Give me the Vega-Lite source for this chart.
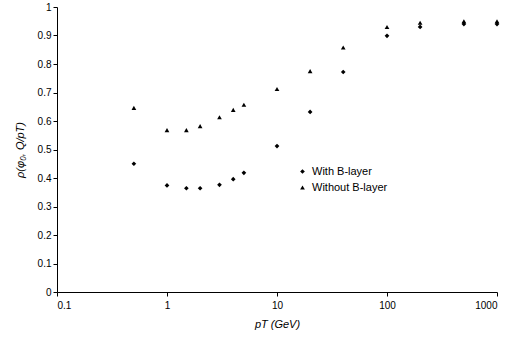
{
  "$schema": "https://vega.github.io/schema/vega-lite/v6.json",
  "autosize": "none",
  "width": 440,
  "height": 285,
  "padding": {"left": 57, "top": 7, "right": 17, "bottom": 55},
  "background": "white",
  "config": {
    "view": {"stroke": null},
    "font": "Liberation Sans",
    "axis": {"grid": false, "domainColor": "black", "tickColor": "black", "labelColor": "black", "titleColor": "black", "labelFont": "Liberation Sans", "titleFont": "Liberation Sans", "labelFontSize": 10, "titleFontSize": 11, "titleFontWeight": "normal", "tickSize": 4}
  },
  "data": {
    "values": [
      {"pt": 0.5, "rho": 0.45, "series": "With B-layer"},
      {"pt": 1, "rho": 0.374, "series": "With B-layer"},
      {"pt": 1.5, "rho": 0.364, "series": "With B-layer"},
      {"pt": 2, "rho": 0.364, "series": "With B-layer"},
      {"pt": 3, "rho": 0.376, "series": "With B-layer"},
      {"pt": 4, "rho": 0.396, "series": "With B-layer"},
      {"pt": 5, "rho": 0.418, "series": "With B-layer"},
      {"pt": 10, "rho": 0.512, "series": "With B-layer"},
      {"pt": 20, "rho": 0.632, "series": "With B-layer"},
      {"pt": 40, "rho": 0.772, "series": "With B-layer"},
      {"pt": 100, "rho": 0.899, "series": "With B-layer"},
      {"pt": 200, "rho": 0.93, "series": "With B-layer"},
      {"pt": 500, "rho": 0.94, "series": "With B-layer"},
      {"pt": 1000, "rho": 0.94, "series": "With B-layer"},
      {"pt": 0.5, "rho": 0.646, "series": "Without B-layer"},
      {"pt": 1, "rho": 0.568, "series": "Without B-layer"},
      {"pt": 1.5, "rho": 0.568, "series": "Without B-layer"},
      {"pt": 2, "rho": 0.582, "series": "Without B-layer"},
      {"pt": 3, "rho": 0.613, "series": "Without B-layer"},
      {"pt": 4, "rho": 0.639, "series": "Without B-layer"},
      {"pt": 5, "rho": 0.657, "series": "Without B-layer"},
      {"pt": 10, "rho": 0.712, "series": "Without B-layer"},
      {"pt": 20, "rho": 0.775, "series": "Without B-layer"},
      {"pt": 40, "rho": 0.858, "series": "Without B-layer"},
      {"pt": 100, "rho": 0.93, "series": "Without B-layer"},
      {"pt": 200, "rho": 0.945, "series": "Without B-layer"},
      {"pt": 500, "rho": 0.95, "series": "Without B-layer"},
      {"pt": 1000, "rho": 0.95, "series": "Without B-layer"}
    ]
  },
  "mark": {"type": "point", "filled": true, "color": "black", "opacity": 1, "size": 22},
  "encoding": {
    "x": {"field": "pt", "type": "quantitative", "scale": {"type": "log", "domain": [0.1, 1000], "nice": false},
      "axis": {"values": [0.1, 1, 10, 100, 1000], "format": "~g", "title": "pT (GeV)", "titleFontStyle": "italic", "labelPadding": 4, "titlePadding": 8}},
    "y": {"field": "rho", "type": "quantitative", "scale": {"domain": [0, 1], "nice": false},
      "axis": {"values": [0, 0.1, 0.2, 0.3, 0.4, 0.5, 0.6, 0.7, 0.8, 0.9, 1], "format": "~g", "title": "ρ(φ₀, Q/pT)", "titleFontStyle": "italic", "titlePadding": 12}},
    "shape": {"field": "series", "type": "nominal", "scale": {"domain": ["With B-layer", "Without B-layer"], "range": ["diamond", "triangle-up"]},
      "legend": {"title": null, "orient": "none", "legendX": 240, "legendY": 159, "labelFontSize": 11, "labelFont": "Liberation Sans", "labelColor": "black", "symbolSize": 22, "symbolFillColor": "black", "symbolStrokeColor": "black", "rowPadding": 4, "labelOffset": 4}}
  }
}
